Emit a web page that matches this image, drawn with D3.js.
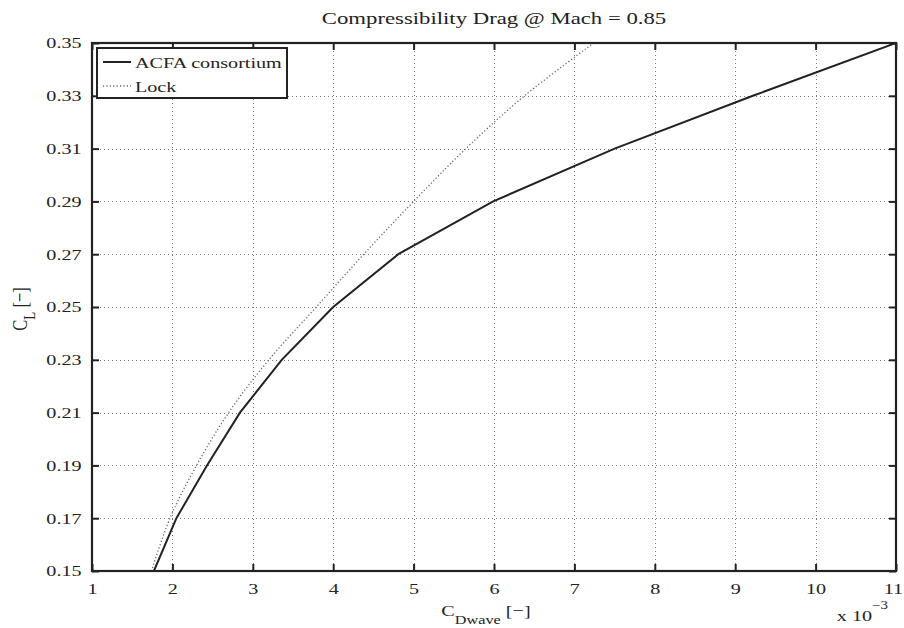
<!DOCTYPE html>
<html>
<head>
<meta charset="utf-8">
<script src="https://cdn.jsdelivr.net/npm/d3@7"></script>
<style>
  body { margin: 0; background: #fff; }
  svg text { font-family: "Liberation Serif", "Times New Roman", serif; fill: #222; }
</style>
</head>
<body>
<svg id="chart" width="904" height="628"></svg>
<script>
// data (x in units of 1e-3)
const clLevels = [0.15, 0.17, 0.19, 0.21, 0.23, 0.25, 0.27, 0.29, 0.31, 0.33, 0.35];
const acfaCd = [1.77, 2.05, 2.43, 2.84, 3.36, 4.0, 4.81, 5.99, 7.5, 9.22, 11.0];
const lockCd = [1.74, 1.97, 2.30, 2.70, 3.20, 3.79, 4.38, 5.0, 5.65, 6.38, 7.24];
const xTicks = [1, 2, 3, 4, 5, 6, 7, 8, 9, 10, 11];
const yTicks = [0.15, 0.17, 0.19, 0.21, 0.23, 0.25, 0.27, 0.29, 0.31, 0.33, 0.35];
const seriesNames = ["ACFA consortium", "Lock"];

const svg = d3.select("#chart");
const margin = { top: 43, right: 8, bottom: 57, left: 92 };
const width = 904, height = 628;
const sx = 1.3; // the reference text is stretched sideways

const x = d3.scaleLinear().domain([1, 11]).range([margin.left, width - margin.right]);
const y = d3.scaleLinear().domain([0.15, 0.35]).range([height - margin.bottom, margin.top]);

const x0 = x.range()[0], x1 = x.range()[1], y0 = y.range()[0], y1 = y.range()[1];

// grid
const grid = svg.append("g").attr("stroke", "#777").attr("stroke-width", 1).attr("stroke-dasharray", "1,3");
grid.selectAll(".vg").data(xTicks.slice(1, -1)).join("line")
  .attr("x1", d => Math.round(x(d)) + 0.5).attr("x2", d => Math.round(x(d)) + 0.5)
  .attr("y1", y1).attr("y2", y0);
grid.selectAll(".hg").data(yTicks.slice(1, -1)).join("line")
  .attr("y1", d => Math.round(y(d)) + 0.5).attr("y2", d => Math.round(y(d)) + 0.5)
  .attr("x1", x0).attr("x2", x1);

svg.append("clipPath").attr("id", "clip").append("rect")
  .attr("x", x0).attr("y", y1).attr("width", x1 - x0).attr("height", y0 - y1);

const lockData = clLevels.map((c, i) => [lockCd[i], c]);
const acfaData = clLevels.map((c, i) => [acfaCd[i], c]);

svg.append("path").datum(lockData)
  .attr("clip-path", "url(#clip)")
  .attr("fill", "none").attr("stroke", "#666").attr("stroke-width", 1.3)
  .attr("stroke-dasharray", "1.2,2.2")
  .attr("d", d3.line().x(d => x(d[0])).y(d => y(d[1])).curve(d3.curveCatmullRom));

svg.append("path").datum(acfaData)
  .attr("clip-path", "url(#clip)")
  .attr("fill", "none").attr("stroke", "#222").attr("stroke-width", 2)
  .attr("d", d3.line().x(d => x(d[0])).y(d => y(d[1])));

// axes, ticks inward on all four sides
const tk = 7;
svg.append("g").attr("transform", `translate(0,${y0})`)
  .call(d3.axisBottom(x).tickValues(xTicks).tickSize(-tk).tickPadding(12).tickFormat(d3.format("d")))
  .call(g => g.select(".domain").remove())
  .call(g => g.selectAll("text").attr("font-size", 15.5).attr("fill", "#222")
    .attr("transform", d => `translate(${d === 11 ? -3 : 0},0) scale(${sx},1)`));
svg.append("g").attr("transform", `translate(0,${y1})`)
  .call(d3.axisTop(x).tickValues(xTicks).tickSize(-tk).tickFormat(""))
  .call(g => g.select(".domain").remove());
svg.append("g").attr("transform", `translate(${x0},0)`)
  .call(d3.axisLeft(y).tickValues(yTicks).tickSize(-tk).tickPadding(8).tickFormat(d3.format(".2f")))
  .call(g => g.select(".domain").remove())
  .call(g => g.selectAll("text").attr("font-size", 15.5).attr("fill", "#222")
    .attr("transform", `scale(${sx},1)`));
svg.append("g").attr("transform", `translate(${x1},0)`)
  .call(d3.axisRight(y).tickValues(yTicks).tickSize(-tk).tickFormat(""))
  .call(g => g.select(".domain").remove());
svg.selectAll(".tick line").attr("stroke", "#222").attr("stroke-width", 2);

svg.append("rect").attr("x", x0).attr("y", y1).attr("width", x1 - x0).attr("height", y0 - y1)
  .attr("fill", "none").attr("stroke", "#222").attr("stroke-width", 2.2);

// title
svg.append("text").attr("transform", `translate(${(x0 + x1) / 2},24) scale(${sx},1)`)
  .attr("text-anchor", "middle").attr("font-size", 17.5)
  .text("Compressibility Drag @ Mach = 0.85");

// x label
const xl = svg.append("text").attr("transform", `translate(486,616) scale(${sx},1)`)
  .attr("text-anchor", "middle").attr("font-size", 15.5);
xl.append("tspan").text("C");
xl.append("tspan").attr("dy", 8).attr("font-size", 12.5).text("Dwave");
xl.append("tspan").attr("dy", -8).text(" [\u2212]");

// exponent
const ex = svg.append("text").attr("transform", `translate(888,621) scale(${sx},1)`)
  .attr("text-anchor", "end").attr("font-size", 15.5);
ex.append("tspan").text("x 10");
ex.append("tspan").attr("dy", -12).attr("font-size", 11.5).text("\u22123");

// y label
const yl = svg.append("text").attr("transform", `translate(27,309) scale(${sx},1) rotate(-90)`)
  .attr("text-anchor", "middle").attr("font-size", 16.5);
yl.append("tspan").text("C");
yl.append("tspan").attr("dy", 6).attr("font-size", 13).text("L");
yl.append("tspan").attr("dy", -6).text(" [\u2212]");

// legend
const lg = svg.append("g");
lg.append("rect").attr("x", 97).attr("y", 48).attr("width", 190).attr("height", 50)
  .attr("fill", "#fff").attr("stroke", "#222").attr("stroke-width", 2);
const rows = lg.selectAll(".row").data(seriesNames).join("g")
  .attr("transform", (d, i) => `translate(0,${62 + i * 24})`);
rows.append("line").attr("x1", 103).attr("x2", 131).attr("y1", 0).attr("y2", 0)
  .attr("stroke", (d, i) => i === 0 ? "#222" : "#666")
  .attr("stroke-width", (d, i) => i === 0 ? 2 : 1.3)
  .attr("stroke-dasharray", (d, i) => i === 0 ? null : "1.2,2.2");
rows.append("text").attr("transform", `translate(135,5.5) scale(${sx},1)`)
  .attr("font-size", 15.5).text(d => d);
</script>
</body>
</html>
